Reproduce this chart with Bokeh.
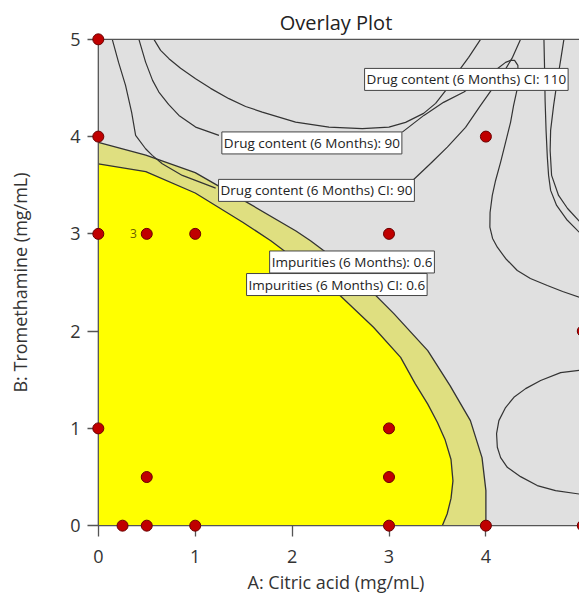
from bokeh.plotting import figure
from bokeh.models import Label, FixedTicker
from bokeh.core.properties import value
from bokeh.embed import file_html
from bokeh.resources import INLINE

title_text = "Overlay Plot"
x_label = "A: Citric acid (mg/mL)"
y_label = "B: Tromethamine (mg/mL)"
ticks = [0, 1, 2, 3, 4, 5]

# design space box
box_x = [0, 5, 5, 0]
box_y = [0, 0, 5, 5]
# visible outline of the design box (bottom, left, top)
edge_x = [5, 0, 0, 5]
edge_y = [0, 0, 5, 5]

# Impurities (6 Months): 0.6 contour
imp_x = [0, 0.49, 1.00, 1.49, 2.04, 2.19, 2.63, 3.05, 3.40, 3.63, 3.84, 3.96, 4.00, 4.00]
imp_y = [3.94, 3.81, 3.63, 3.35, 3.03, 2.93, 2.60, 2.18, 1.80, 1.44, 1.08, 0.70, 0.36, 0.0]

# Impurities (6 Months) CI: 0.6 contour
impci_x = [0, 0.49, 1.00, 1.49, 1.78, 1.90, 2.47, 2.84, 3.12, 3.27, 3.40, 3.50, 3.58, 3.64, 3.66, 3.64, 3.60, 3.55]
impci_y = [3.72, 3.64, 3.42, 3.12, 2.93, 2.84, 2.39, 2.04, 1.73, 1.46, 1.25, 1.06, 0.88, 0.68, 0.46, 0.28, 0.12, 0.0]

# Drug content (6 Months) CI: 90 contour (two pieces around its label)
dcci90a_x = [0.144, 0.209, 0.281, 0.344, 0.385, 0.488, 0.557, 0.660, 0.867, 1.056, 1.211]
dcci90a_y = [5.0, 4.763, 4.527, 4.249, 4.012, 3.875, 3.807, 3.721, 3.601, 3.529, 3.470]
dcci90b_x = [3.244, 3.429, 3.602, 3.790, 3.945, 4.069, 4.182, 4.275, 4.358]
dcci90b_y = [3.549, 3.724, 3.892, 4.095, 4.321, 4.496, 4.660, 4.815, 5.0]

# Drug content (6 Months): 90 contour (two pieces around its label)
dc90a_x = [0.419, 0.488, 0.560, 0.625, 0.725, 0.832, 1.004, 1.245]
dc90a_y = [5.0, 4.766, 4.578, 4.458, 4.331, 4.218, 4.098, 4.012]
dc90b_x = [3.137, 3.360, 3.563, 3.773, 3.945, 4.118, 4.203, 4.255, 4.296, 4.330, 4.332,
           4.324, 4.286, 4.255, 4.203, 4.152, 4.100, 4.066, 4.043, 4.041, 4.069, 4.118,
           4.203, 4.324, 4.459, 4.634, 4.792, 5.0]
dc90b_y = [4.046, 4.218, 4.352, 4.458, 4.578, 4.698, 4.763, 4.784, 4.784, 4.733, 4.630,
           4.493, 4.321, 4.149, 3.940, 3.738, 3.549, 3.395, 3.220, 3.069, 2.953, 2.863,
           2.747, 2.623, 2.541, 2.469, 2.407, 2.335]

# Drug content (6 Months) CI: 110 contour (U shaped)
dcci110_x = [0.574, 0.643, 0.729, 0.849, 1.004, 1.159, 1.348, 1.520, 1.692, 2.036, 2.380,
             2.724, 2.999, 3.171, 3.357, 3.481, 3.602, 3.708, 3.822, 3.945]
dcci110_y = [5.0, 4.887, 4.801, 4.702, 4.595, 4.496, 4.390, 4.310, 4.252, 4.149, 4.098,
             4.081, 4.098, 4.146, 4.239, 4.342, 4.496, 4.660, 4.815, 5.0]

# right-hand contours
dc110a_x = [4.599, 4.606, 4.611, 4.621, 4.634, 4.647, 4.668, 4.730, 4.833, 5.0]
dc110a_y = [5.0, 4.681, 4.372, 4.064, 3.789, 3.601, 3.447, 3.292, 3.148, 2.98]
dc110b_x = [4.805, 4.771, 4.737, 4.699, 4.668, 4.663, 4.678, 4.750, 4.843, 5.0]
dc110b_y = [5.0, 4.784, 4.578, 4.321, 4.064, 3.858, 3.601, 3.395, 3.261, 3.09]
dcloop_x = [5.0, 4.771, 4.565, 4.410, 4.289, 4.203, 4.134, 4.110, 4.118, 4.152, 4.221,
            4.358, 4.530, 4.719, 5.0]
dcloop_y = [1.60, 1.574, 1.492, 1.409, 1.320, 1.214, 1.080, 0.947, 0.806, 0.700, 0.600,
            0.504, 0.412, 0.360, 0.32]

# design points
pts_x = [0, 0, 0, 0.5, 1, 3, 4, 5, 0, 0.5, 3, 3, 0.25, 0.5, 1, 3, 4, 5]
pts_y = [5, 4, 3, 3, 3, 3, 4, 2, 1, 0.5, 1, 0.5, 0, 0, 0, 0, 0, 0]
rep_x = [0.5]
rep_y = [3]
rep_text = ["3"]

contour_labels = [
    ("Drug content (6 Months) CI: 110", 2.748, 4.588),
    ("Drug content (6 Months): 90", 1.275, 3.935),
    ("Drug content (6 Months) CI: 90", 1.241, 3.447),
    ("Impurities (6 Months): 0.6", 1.768, 2.711),
    ("Impurities (6 Months) CI: 0.6", 1.530, 2.479),
]

FONT = "Open Sans"
GREY = "#e0e0e0"
KHAKI = "#dfdf80"
YELLOW = "#ffff00"
LINE = "#333333"
AXIS = "#555555"

p = figure(width=579, height=597, x_range=(-0.06, 4.966), y_range=(-0.06, 5.06),
           output_backend="svg", toolbar_location=None,
           min_border_left=92, min_border_right=0, min_border_top=33, min_border_bottom=66)
p.title.text = title_text
p.title.align = "center"
p.title.offset = 3
p.title.text_font = FONT
p.title.text_font_size = "20px"
p.title.text_font_style = "normal"
p.title.text_color = "#222222"
p.title.standoff = -5
p.grid.visible = False
p.outline_line_color = None
p.background_fill_color = "white"
p.border_fill_color = "white"

p.xaxis.axis_label = x_label
p.yaxis.axis_label = y_label
for ax in (p.xaxis[0], p.yaxis[0]):
    ax.ticker = FixedTicker(ticks=ticks)
    ax.minor_tick_line_color = None
    ax.major_tick_out = 5
    ax.major_tick_in = 6
    ax.axis_line_color = None
    ax.major_tick_line_color = AXIS
    ax.major_tick_line_width = 1.3
    ax.major_label_text_font = FONT
    ax.major_label_text_font_size = "18px"
    ax.major_label_text_color = "#333333"
    ax.major_label_text_line_height = 1.0
    ax.axis_label_text_font = FONT
    ax.axis_label_text_font_style = "normal"
    ax.axis_label_text_font_size = "18px"
    ax.axis_label_text_color = "#333333"
    ax.axis_label_text_line_height = 1.0
p.xaxis.major_label_standoff = 13
p.xaxis.axis_label_standoff = 4
p.yaxis.major_label_standoff = 7
p.yaxis.axis_label_standoff = 35

# regions
p.patch(box_x, box_y, fill_color=GREY, line_color=None)
p.patch(imp_x + [0], imp_y + [0], fill_color=KHAKI, line_color=None)
p.patch(impci_x + [0], impci_y + [0], fill_color=YELLOW, line_color=None)
p.line(imp_x, imp_y, line_color=LINE, line_width=1.3)
p.line(impci_x, impci_y, line_color=LINE, line_width=1.3)

for xs, ys in [(dcci90a_x, dcci90a_y), (dcci90b_x, dcci90b_y), (dc90a_x, dc90a_y),
               (dc90b_x, dc90b_y), (dcci110_x, dcci110_y), (dc110a_x, dc110a_y),
               (dc110b_x, dc110b_y), (dcloop_x, dcloop_y)]:
    p.line(xs, ys, line_color=LINE, line_width=1.2)

# outline of the design box
p.line(edge_x, edge_y, line_color=AXIS, line_width=1.3)

for txt, lx, ly in contour_labels:
    p.add_layout(Label(x=lx, y=ly, text=txt, text_font=FONT, text_font_size="13.5px",
                       text_color="#222222", text_align="left", text_baseline="middle",
                       background_fill_color="white", border_line_color="#444444",
                       border_line_width=1, padding=2))

pts = p.scatter(pts_x, pts_y, size=11, fill_color="#c00000", line_color="#6a0000", line_width=1)
pts.level = "annotation"
p.text(rep_x, rep_y, text=rep_text, x_offset=-10, text_align="right", text_baseline="middle",
       text_font=value(FONT), text_font_size="12px", text_color="#6b5f00")

open("out.html", "w").write(file_html(p, INLINE))
